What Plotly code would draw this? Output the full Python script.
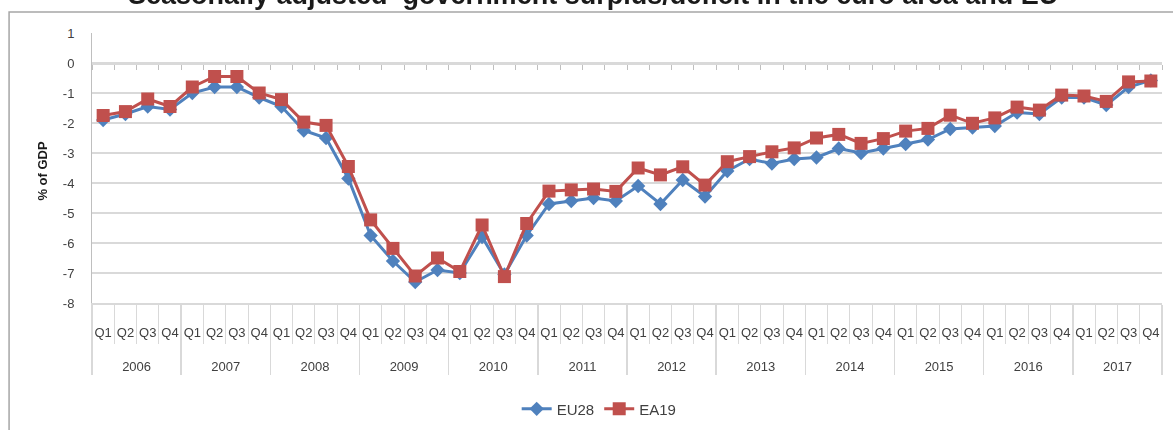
import plotly.graph_objects as go

years = ['2006', '2007', '2008', '2009', '2010', '2011',
         '2012', '2013', '2014', '2015', '2016', '2017']
quarters = ['Q1', 'Q2', 'Q3', 'Q4']

eu28 = [-1.9, -1.7, -1.45, -1.55, -1.0, -0.8, -0.8, -1.15,
        -1.45, -2.25, -2.5, -3.85, -5.75, -6.6, -7.3, -6.9,
        -7.0, -5.8, -7.05, -5.75, -4.7, -4.6, -4.5, -4.6,
        -4.1, -4.7, -3.9, -4.45, -3.6, -3.2, -3.35, -3.2,
        -3.15, -2.85, -3.0, -2.85, -2.7, -2.55, -2.2, -2.15,
        -2.1, -1.65, -1.7, -1.15, -1.15, -1.4, -0.8, -0.58]
ea19 = [-1.75, -1.62, -1.2, -1.45, -0.8, -0.45, -0.45, -1.0,
        -1.22, -1.97, -2.08, -3.45, -5.23, -6.18, -7.1, -6.5,
        -6.95, -5.4, -7.12, -5.35, -4.27, -4.23, -4.2, -4.28,
        -3.5, -3.73, -3.46, -4.07, -3.29, -3.12, -2.96, -2.83,
        -2.5, -2.38, -2.68, -2.52, -2.27, -2.18, -1.74, -2.01,
        -1.83, -1.47, -1.57, -1.07, -1.1, -1.28, -0.63, -0.6]

y_ticks = [1, 0, -1, -2, -3, -4, -5, -6, -7, -8]
y_labels = ['1', '0', '-1', '-2', '-3', '-4', '-5', '-6', '-7', '-8']

# blank lines push the two label rows down like the Excel layout
x_cat = [['<br>' + y for y in years for q in quarters],
         ['<br>' + q + '<br> ' for y in years for q in quarters]]
n = len(eu28)

font = 'Liberation Sans'
grid = '#d9d9d9'

fig = go.Figure()
fig.add_trace(go.Scatter(
    x=x_cat, y=eu28, name='EU28', mode='lines+markers',
    line=dict(color='#4F81BD', width=3),
    marker=dict(symbol='diamond', size=11, color='#4F81BD')
))
fig.add_trace(go.Scatter(
    x=x_cat, y=ea19, name='EA19', mode='lines+markers',
    line=dict(color='#C0504D', width=3),
    marker=dict(symbol='square', size=13, color='#C0504D')
))
# invisible copy so the axis crossing at zero gets its tick marks
fig.add_trace(go.Scatter(
    x=x_cat, y=eu28, xaxis='x2', mode='markers', opacity=0,
    showlegend=False, hoverinfo='skip'
))

fig.update_layout(
    width=1173, height=430,
    margin=dict(l=92, r=11, t=33, b=127, autoexpand=False),
    paper_bgcolor='white', plot_bgcolor='white',
    font=dict(family=font, size=12, color='#404040'),
    showlegend=True,
    hovermode=False,
    legend=dict(orientation='h', x=0.474, xanchor='center', y=-0.393, yanchor='middle',
                font=dict(size=15, color='#404040'), itemwidth=30, tracegroupgap=0),
    xaxis=dict(
        type='multicategory', range=[-0.5, n - 0.5], autorange=False, automargin=False,
        tickson='boundaries', ticks='outside', ticklen=39, tickangle=0,
        tickcolor=grid, showgrid=False, showline=True, linecolor=grid, linewidth=1.5,
        showdividers=True, dividercolor=grid, dividerwidth=1.5,
        tickfont=dict(size=13, color='#404040')
    ),
    xaxis2=dict(
        type='multicategory', overlaying='x', anchor='free', position=8 / 9,
        range=[-0.5, n - 0.5], autorange=False, automargin=False,
        tickson='boundaries', ticks='outside', ticklen=5, tickcolor='#bfbfbf',
        showline=True, linecolor=grid, linewidth=1.5,
        showticklabels=False, showdividers=False, showgrid=False
    ),
    yaxis=dict(
        range=[-8, 1], tickvals=y_ticks, ticktext=y_labels, automargin=False,
        showgrid=True, gridcolor=grid, gridwidth=1.5,
        zeroline=False, showline=True, linecolor='#bfbfbf', linewidth=1,
        tickfont=dict(size=13, color='#404040'), ticks='', ticklabelstandoff=14
    ),
    annotations=[
        dict(text='<b>Seasonally adjusted  government surplus/deficit in the euro area and EU</b>',
             xref='paper', yref='paper', x=0.468, y=1.142, xanchor='center', yanchor='middle',
             showarrow=False, font=dict(size=27, color='#1a1a1a', family=font)),
        dict(text='<b>% of GDP</b>', xref='paper', yref='paper', x=-0.055, y=0.489,
             textangle=-90, showarrow=False, font=dict(size=13, color='#1a1a1a', family=font))
    ],
    shapes=[
        dict(type='rect', xref='paper', yref='paper', x0=-0.0775, x1=1.03, y0=-0.6, y1=1.0778,
             line=dict(color='#a6a6a6', width=1.5), layer='below')
    ]
)

fig.write_html('out.html', config={'displayModeBar': False, 'staticPlot': True},
               post_script="document.body.style.margin='0px';")
